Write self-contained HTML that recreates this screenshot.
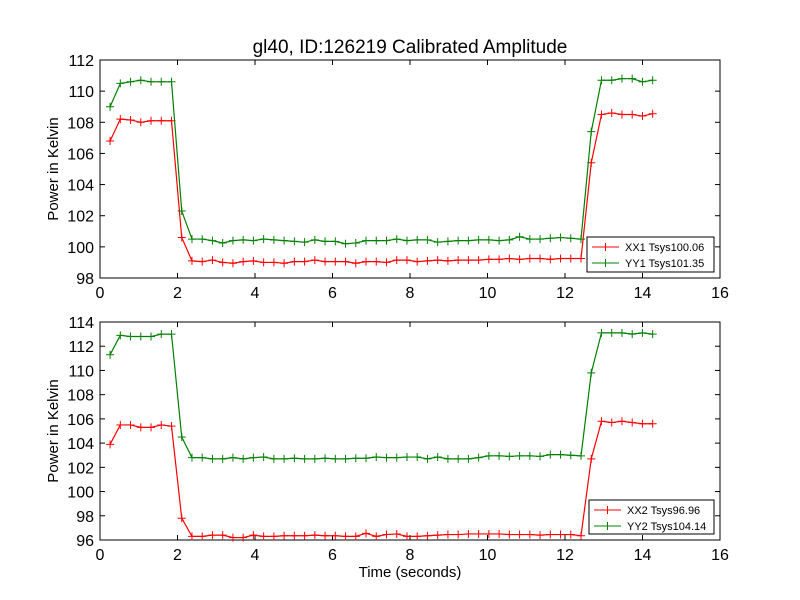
<!DOCTYPE html>
<html><head><meta charset="utf-8"><style>
body{margin:0;background:#fff;}
svg{display:block;font-family:"Liberation Sans","DejaVu Sans",sans-serif;}
</style></head><body>
<svg id="chart" width="800" height="600"></svg>
<script>
const timeStart = 0.26;
const timeStep = 0.2642;
const xx1 = [106.8,108.2,108.15,108.0,108.1,108.1,108.1,100.6,
 99.1,99.05,99.15,99.0,98.95,99.05,99.1,99.0,99.0,98.95,99.05,99.05,99.15,99.05,99.05,99.05,98.95,99.05,99.05,99.0,99.15,99.15,99.05,99.1,99.15,99.1,99.15,99.15,99.15,99.2,99.2,99.25,99.2,99.25,99.25,99.2,99.25,99.25,99.25,
 105.4,108.5,108.6,108.5,108.5,108.4,108.55];
const yy1 = [109.0,110.5,110.6,110.7,110.6,110.6,110.6,102.3,
 100.5,100.5,100.4,100.25,100.4,100.45,100.4,100.5,100.45,100.4,100.35,100.3,100.45,100.35,100.35,100.2,100.25,100.4,100.4,100.4,100.5,100.4,100.45,100.45,100.3,100.35,100.4,100.4,100.45,100.45,100.4,100.45,100.65,100.5,100.5,100.55,100.6,100.55,100.5,
 107.4,110.7,110.7,110.8,110.8,110.6,110.7];
const xx2 = [103.9,105.5,105.5,105.3,105.3,105.5,105.4,97.8,
 96.3,96.3,96.4,96.4,96.2,96.2,96.4,96.3,96.3,96.35,96.35,96.35,96.4,96.35,96.35,96.3,96.3,96.55,96.3,96.45,96.5,96.3,96.3,96.35,96.4,96.45,96.45,96.5,96.5,96.5,96.5,96.45,96.45,96.45,96.4,96.45,96.45,96.45,96.35,
 102.7,105.8,105.7,105.8,105.7,105.6,105.6];
const yy2 = [111.3,112.9,112.8,112.8,112.8,113.0,113.0,104.5,
 102.8,102.8,102.7,102.7,102.8,102.7,102.8,102.85,102.7,102.7,102.75,102.7,102.7,102.75,102.7,102.7,102.75,102.75,102.85,102.8,102.8,102.85,102.85,102.7,102.85,102.7,102.7,102.7,102.8,102.95,102.95,102.9,102.95,102.95,102.9,103.05,103.05,103.0,102.95,
 109.8,113.1,113.1,113.1,113.0,113.1,113.0];
const xTicks = [0,2,4,6,8,10,12,14,16];
const yTicksTop = [98,100,102,104,106,108,110,112];
const yTicksBot = [96,98,100,102,104,106,108,110,112,114];
const legendTop = ["XX1 Tsys100.06","YY1 Tsys101.35"];
const legendBot = ["XX2 Tsys96.96","YY2 Tsys104.14"];

const NS="http://www.w3.org/2000/svg";
const svg=document.getElementById('chart');
function mk(tag,attrs,parent){const e=document.createElementNS(NS,tag);for(const k in attrs)e.setAttribute(k,attrs[k]);(parent||svg).appendChild(e);return e;}

function panel(top,bottom,ymin,ymax,yTicks,s1,s2,leg,legBox,nm){
  const L=100,R=720;
  const g=mk('g',{});
  
  
  const xs=v=>L+(v-0)/16*(R-L);
  const ys=v=>bottom-(v-ymin)/(ymax-ymin)*(bottom-top);
  const frame=mk('rect',{x:L,y:top,width:R-L,height:bottom-top,fill:'#fff',stroke:'#000','stroke-width':1},g);
  
  
  xTicks.forEach(t=>{
    const x=xs(t);
    mk('line',{x1:x,y1:bottom,x2:x,y2:bottom-5,stroke:'#000'},g);
    mk('line',{x1:x,y1:top,x2:x,y2:top+5,stroke:'#000'},g);
    const tx=mk('text',{x:x,y:bottom+20,'font-size':16,'text-anchor':'middle'},g);
    tx.textContent=t;
    
    
  });
  yTicks.forEach(t=>{
    const y=ys(t);
    mk('line',{x1:L,y1:y,x2:L+5,y2:y,stroke:'#000'},g);
    mk('line',{x1:R,y1:y,x2:R-5,y2:y,stroke:'#000'},g);
    const tx=mk('text',{x:L-6,y:y+6,'font-size':16,'text-anchor':'end'},g);
    tx.textContent=t;
    
    
  });
  const yl=mk('text',{x:0,y:0,'font-size':15,'text-anchor':'middle',transform:`translate(58,${(top+bottom)/2}) rotate(-90)`},g);
  yl.textContent='Power in Kelvin';
  
  
  [[s1,'#ff0000',leg[0]],[s2,'#008000',leg[1]]].forEach(([s,c,n])=>{
    const pts=s.map((v,i)=>[xs(timeStart+i*timeStep),ys(v)]);
    const pl=mk('polyline',{points:pts.map(p=>p.join(',')).join(' '),fill:'none',stroke:c,'stroke-width':1.2},g);
    
    
    pts.forEach(p=>{
      const m=mk('path',{d:`M${p[0]-4},${p[1]}h8M${p[0]},${p[1]-4}v8`,stroke:c,'stroke-width':1},g);
      
      
    });
  });
  const [bx,by,bw,bh]=legBox;
  const lg=mk('g',{},g);
  
  
  mk('rect',{x:bx,y:by,width:bw,height:bh,fill:'#fff',stroke:'#000'},lg);
  leg.forEach((n,i)=>{
    const c=i?'#008000':'#ff0000', y=by+10+i*16;
    mk('path',{d:`M${bx+5},${y}h27M${bx+18.5},${y-4}v8`,stroke:c,'stroke-width':1},lg);
    const t=mk('text',{x:bx+38,y:y+4,'font-size':11},lg);
    t.textContent=n;
    
    
  });
}
const title=mk('text',{x:410,y:53,'font-size':19,'text-anchor':'middle'});
title.textContent='gl40, ID:126219 Calibrated Amplitude';


panel(60,278,98,112,yTicksTop,xx1,yy1,legendTop,[587,237,127,35],'top-panel');
panel(322,540,96,114,yTicksBot,xx2,yy2,legendBot,[589,500,125,34],'bottom-panel');
const xl=mk('text',{x:410,y:577,'font-size':15,'text-anchor':'middle'});
xl.textContent='Time (seconds)';


</script>
</body></html>
